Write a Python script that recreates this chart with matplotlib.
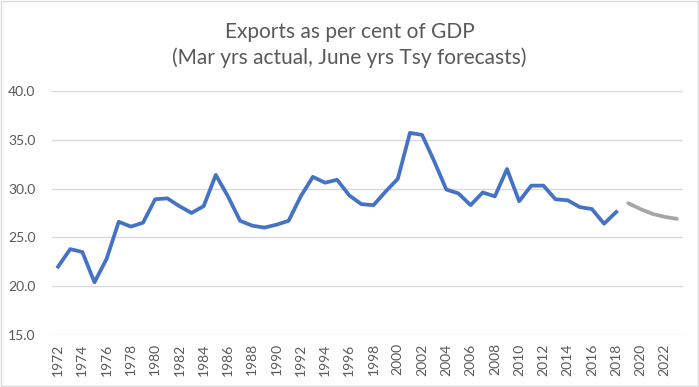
import numpy as np
import matplotlib
matplotlib.use('Agg')
import matplotlib.pyplot as plt
from matplotlib.patches import Rectangle

plt.rcParams['font.family'] = ['Lato', 'DejaVu Sans']

# actual, March years
years_act = list(range(1972, 2019))
exports_act = [22.0, 23.8, 23.5, 20.4, 22.8, 26.6, 26.1, 26.5, 28.9, 29.0,
               28.2, 27.5, 28.2, 31.4, 29.2, 26.7, 26.2, 26.0, 26.3, 26.7,
               29.2, 31.2, 30.6, 30.9, 29.3, 28.4, 28.3, 29.7, 31.0, 35.7,
               35.5, 32.8, 29.9, 29.5, 28.3, 29.6, 29.2, 32.0, 28.7, 30.3,
               30.3, 28.9, 28.8, 28.1, 27.9, 26.4, 27.6]
# Treasury forecasts, June years
years_fc = list(range(2019, 2024))
exports_fc = [28.5, 27.9, 27.4, 27.1, 26.9]

tick_years = list(range(1972, 2023, 2))
yticks = [15, 20, 25, 30, 35, 40]

fig = plt.figure(figsize=(6.99, 3.87), dpi=100)
ax = fig.add_axes([0.0744, 0.1344, 0.9026, 0.6306])

ax.plot(years_act, exports_act, color='#4472C4', lw=2.7, solid_joinstyle='round', zorder=3)
ax.plot(years_fc, exports_fc, color='#A5A5A5', lw=2.7, solid_capstyle='round', zorder=3)

ax.set_xlim(1971.5, 2023.5)
ax.set_ylim(15, 40)
ax.set_yticks(yticks)
ax.set_yticklabels([f'{v:.1f}' for v in yticks])
ax.set_xticks(tick_years)
ax.set_xticklabels([str(y) for y in tick_years], rotation=90)
ax.tick_params(axis='both', length=0, colors='#595959', labelsize=10)
ax.tick_params(axis='y', pad=12)
ax.tick_params(axis='x', pad=6)
ax.grid(axis='y', color='#D9D9D9', lw=1)
ax.set_axisbelow(True)
for s in ax.spines.values():
    s.set_visible(False)

fig.text(0.5, 0.918, 'Exports as per cent of GDP', ha='center', va='center',
         fontsize=15, color='#595959')
fig.text(0.5, 0.850, '(Mar yrs actual, June yrs Tsy forecasts)', ha='center', va='center',
         fontsize=15, color='#595959')

fig.patches.append(Rectangle((0.001, 0.002), 0.997, 0.995, transform=fig.transFigure,
                             fill=False, ec='#D9D9D9', lw=1))

fig.savefig('out.png', dpi=100)
